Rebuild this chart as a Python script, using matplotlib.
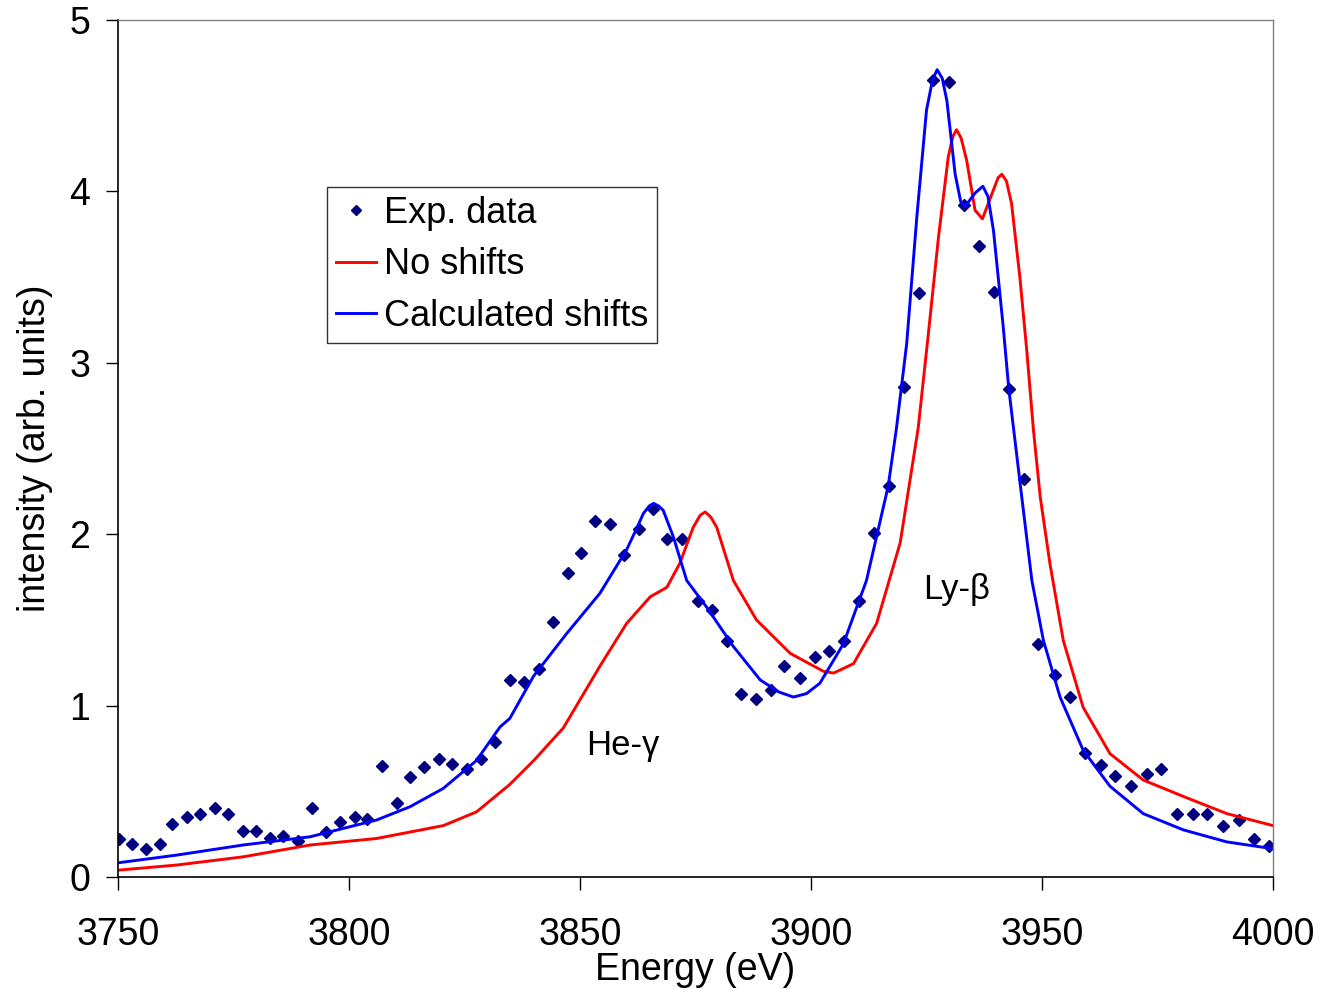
import matplotlib.pyplot as plt

plt.rcParams['font.family'] = ['Liberation Sans', 'DejaVu Sans']

# ===== DATA =====
exp_energy = [3750.2, 3753.1, 3756.0, 3759.1, 3761.8, 3765.0, 3767.7, 3771.0, 3773.9, 3777.0,
              3779.9, 3782.9, 3785.8, 3789.0, 3792.1, 3795.0, 3798.1, 3801.2, 3804.0, 3807.2,
              3810.3, 3813.2, 3816.2, 3819.5, 3822.4, 3825.5, 3828.5, 3831.6, 3834.8, 3837.9,
              3841.1, 3844.1, 3847.3, 3850.2, 3853.3, 3856.5, 3859.5, 3862.7, 3865.8, 3868.9,
              3872.1, 3875.5, 3878.6, 3881.9, 3884.9, 3888.0, 3891.3, 3894.2, 3897.7, 3900.8,
              3903.9, 3907.2, 3910.4, 3913.7, 3916.9, 3920.1, 3923.3, 3926.5, 3929.9, 3933.2,
              3936.4, 3939.5, 3942.8, 3946.2, 3949.2, 3952.7, 3956.1, 3959.2, 3962.7, 3965.7,
              3969.2, 3972.7, 3975.7, 3979.2, 3982.6, 3985.6, 3989.2, 3992.6, 3995.9, 3999.1]
exp_intensity = [0.22, 0.19, 0.165, 0.19, 0.31, 0.35, 0.37, 0.40, 0.37, 0.27,
                 0.27, 0.225, 0.24, 0.21, 0.40, 0.265, 0.32, 0.35, 0.34, 0.65,
                 0.43, 0.585, 0.64, 0.69, 0.66, 0.63, 0.69, 0.785, 1.15, 1.14,
                 1.215, 1.49, 1.775, 1.89, 2.075, 2.06, 1.88, 2.03, 2.15, 1.97,
                 1.97, 1.61, 1.56, 1.375, 1.07, 1.04, 1.09, 1.23, 1.16, 1.285,
                 1.32, 1.375, 1.61, 2.01, 2.28, 2.86, 3.41, 4.65, 4.64, 3.92,
                 3.68, 3.415, 2.85, 2.325, 1.36, 1.18, 1.05, 0.725, 0.655, 0.59,
                 0.53, 0.60, 0.63, 0.37, 0.365, 0.365, 0.30, 0.33, 0.22, 0.18]

calc_energy = [3750.0, 3762.7, 3777.1, 3791.6, 3806.0, 3813.2, 3820.4, 3827.6, 3832.7, 3834.8,
               3839.9, 3847.1, 3854.3, 3860.1, 3862.2, 3863.7, 3865.0, 3865.9, 3867.0, 3868.0,
               3870.2, 3873.1, 3877.4, 3883.2, 3889.0, 3893.0, 3896.2, 3899.0, 3901.9, 3907.0,
               3912.0, 3916.7, 3918.5, 3920.7, 3922.9, 3925.0, 3926.3, 3927.3, 3928.4, 3929.4,
               3931.2, 3932.4, 3933.3, 3935.5, 3937.2, 3938.3, 3939.5, 3941.6, 3942.8, 3945.6,
               3947.8, 3950.3, 3953.9, 3958.9, 3964.7, 3971.9, 3980.6, 3990.0, 4000.0]
calc_intensity = [0.083, 0.128, 0.187, 0.235, 0.333, 0.41, 0.517, 0.68, 0.876, 0.925,
                  1.17, 1.42, 1.655, 1.91, 2.03, 2.12, 2.165, 2.18, 2.165, 2.14,
                  1.985, 1.73, 1.575, 1.345, 1.15, 1.08, 1.05, 1.07, 1.13, 1.36,
                  1.73, 2.28, 2.62, 3.11, 3.85, 4.475, 4.65, 4.71, 4.66, 4.53,
                  4.10, 3.94, 3.91, 3.99, 4.03, 3.97, 3.77, 3.21, 2.85, 2.22,
                  1.73, 1.38, 1.05, 0.74, 0.53, 0.37, 0.275, 0.205, 0.165]

noshift_energy = [3750.0, 3762.7, 3777.1, 3791.6, 3806.0, 3820.4, 3827.6, 3834.8, 3840.0, 3846.4,
                  3854.3, 3860.1, 3865.2, 3868.8, 3871.6, 3874.5, 3876.0, 3877.1, 3878.3, 3879.6,
                  3883.2, 3888.2, 3895.5, 3902.7, 3904.9, 3909.2, 3914.2, 3919.3, 3923.2, 3925.4,
                  3927.6, 3929.7, 3930.7, 3931.5, 3932.5, 3933.7, 3935.5, 3937.1, 3939.5, 3940.5,
                  3941.3, 3942.3, 3943.4, 3945.2, 3946.7, 3948.1, 3949.6, 3951.7, 3954.6, 3958.9,
                  3964.7, 3971.9, 3980.6, 3990.0, 4000.0]
noshift_intensity = [0.04, 0.07, 0.118, 0.187, 0.225, 0.30, 0.38, 0.54, 0.68, 0.87,
                     1.23, 1.48, 1.635, 1.69, 1.83, 2.04, 2.11, 2.13, 2.10, 2.04,
                     1.73, 1.50, 1.305, 1.20, 1.19, 1.245, 1.48, 1.95, 2.62, 3.17,
                     3.735, 4.20, 4.32, 4.36, 4.31, 4.18, 3.89, 3.84, 4.01, 4.08,
                     4.10, 4.06, 3.93, 3.50, 3.07, 2.62, 2.22, 1.83, 1.38, 0.99,
                     0.72, 0.566, 0.47, 0.37, 0.30]

# ===== PLOT =====
fig = plt.figure(figsize=(13.21, 9.89), dpi=100)
ax = fig.add_axes([0.0893, 0.1132, 0.8744, 0.8666])

ax.plot(exp_energy, exp_intensity, linestyle="none", marker="D", markersize=6.5,
        color="#000080", label="Exp. data")
ax.plot(noshift_energy, noshift_intensity, color="#ff0000", linewidth=2.1, label="No shifts")
ax.plot(calc_energy, calc_intensity, color="#0000ff", linewidth=2.1, label="Calculated shifts")

ax.set_xlim(3750, 4000)
ax.set_ylim(0, 5)
ax.set_xticks([3750, 3800, 3850, 3900, 3950, 4000])
ax.set_yticks([0, 1, 2, 3, 4, 5])
ax.tick_params(direction="out", length=9, width=1.0, labelsize=27)
ax.tick_params(axis="x", pad=20)
ax.tick_params(axis="y", pad=11)

ax.set_xlabel("Energy (eV)", fontsize=27, labelpad=-1)
ax.set_ylabel("intensity (arb. units)", fontsize=27, labelpad=12)

for side in ["left", "bottom"]:
    ax.spines[side].set_color("black")
    ax.spines[side].set_linewidth(1.2)
for side in ["top", "right"]:
    ax.spines[side].set_color("#808080")
    ax.spines[side].set_linewidth(1.0)

ax.text(3859.3, 0.765, "He-\u03b3", fontsize=25, ha="center", va="center")
ax.text(3931.6, 1.675, "Ly-\u03b2", fontsize=25, ha="center", va="center")

leg = ax.legend(loc="upper left", bbox_to_anchor=(0.181, 0.805), borderaxespad=0,
                fontsize=26, frameon=True, fancybox=False, handlelength=1.1,
                handletextpad=0.22, labelspacing=0.45, borderpad=0.25, markerscale=0.8)
leg.get_frame().set_edgecolor("black")
leg.get_frame().set_linewidth(1.0)

plt.savefig("out.png", dpi=100)
